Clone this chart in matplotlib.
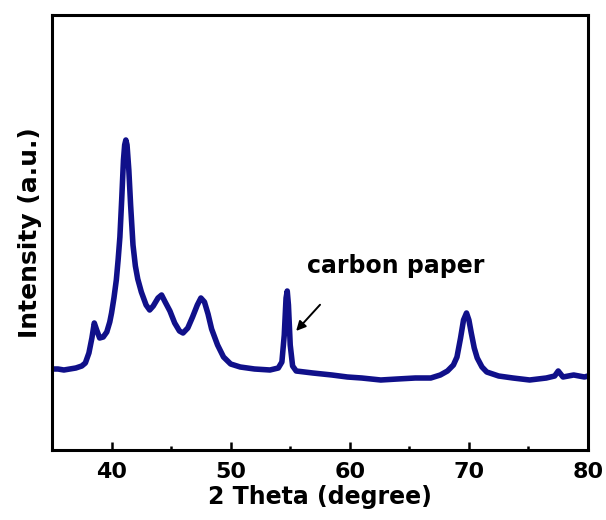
import matplotlib
matplotlib.use("Agg")
import matplotlib.pyplot as plt
from matplotlib.ticker import MultipleLocator

# 2-theta (degree) and intensity (a.u.)
two_theta = [35.0, 35.5, 36.0, 36.5, 37.0, 37.5, 37.8, 38.1, 38.35, 38.55, 38.75,
             39.0, 39.3, 39.6, 39.85, 40.0, 40.2, 40.4, 40.55, 40.7, 40.85, 41.0,
             41.1, 41.2, 41.3, 41.45, 41.6, 41.8, 42.0, 42.2, 42.5, 42.9, 43.2,
             43.5, 43.9, 44.2, 44.5, 44.9, 45.3, 45.7, 46.0, 46.4, 46.8, 47.2,
             47.5, 47.8, 48.1, 48.4, 48.9, 49.4, 50.0, 50.8, 52.0, 53.3, 54.0,
             54.3, 54.5, 54.65, 54.75, 54.85, 55.0, 55.2, 55.5, 56.9, 58.5, 59.8,
             61.0, 62.6, 64.0, 65.5, 66.8, 67.6, 68.2, 68.7, 69.0, 69.3, 69.55,
             69.8, 70.0, 70.2, 70.45, 70.7, 71.1, 71.5, 72.5, 73.7, 75.1, 76.5,
             77.2, 77.5, 77.9, 78.8, 79.7, 80.0]
intensity = [81, 81, 80, 81, 82, 84, 87, 97, 112, 127, 120,
             112, 113, 118, 128, 137, 152, 170, 190, 213, 250, 290,
             305, 310, 305, 280, 245, 205, 184, 171, 158, 145, 140,
             144, 152, 155, 148, 139, 127, 119, 117, 122, 133, 145,
             152, 148, 136, 121, 105, 93, 86, 83, 81, 80, 82,
             88, 115, 152, 159, 145, 105, 84, 79, 77, 75, 73,
             72, 70, 71, 72, 72, 75, 79, 85, 93, 112, 130,
             137, 130, 117, 102, 92, 83, 78, 74, 72, 70, 72,
             74, 79, 73, 75, 73, 74]

x_ticks = [40, 50, 60, 70, 80]
annotation_text = "carbon paper"

plt.rcParams['font.family'] = ['DejaVu Sans']
plt.rcParams['font.weight'] = 'bold'

fig = plt.figure(figsize=(6.06, 5.2), dpi=100)
ax = fig.add_axes([52/606, 70/520, 536/606, 435/520])

ax.plot(two_theta, intensity, color='#10108a', lw=4.0, solid_joinstyle='round')

ax.set_xlim(35, 80)
ax.set_ylim(0, 435)
ax.set_xticks(x_ticks)
ax.xaxis.set_minor_locator(MultipleLocator(5))
ax.set_yticks([])

for sp in ax.spines.values():
    sp.set_linewidth(2.2)

ax.tick_params(axis='x', which='major', direction='in', length=6, width=1.8,
               labelsize=16, pad=9)
ax.tick_params(axis='x', which='minor', direction='in', length=3, width=1.8)
for lab in ax.get_xticklabels():
    lab.set_fontweight('bold')

ax.set_xlabel('2 Theta (degree)', fontsize=17, fontweight='bold', labelpad=2)
ax.set_ylabel('Intensity (a.u.)', fontsize=18, fontweight='bold', labelpad=7)

ax.text(56.4, 184, annotation_text, fontsize=17, fontweight='bold',
        ha='left', va='center')
ax.annotate('', xy=(55.34, 117), xytext=(57.66, 147.3),
            arrowprops=dict(arrowstyle='-|>', color='black', lw=1.4,
                            mutation_scale=14))

fig.savefig('out.png', dpi=100)
